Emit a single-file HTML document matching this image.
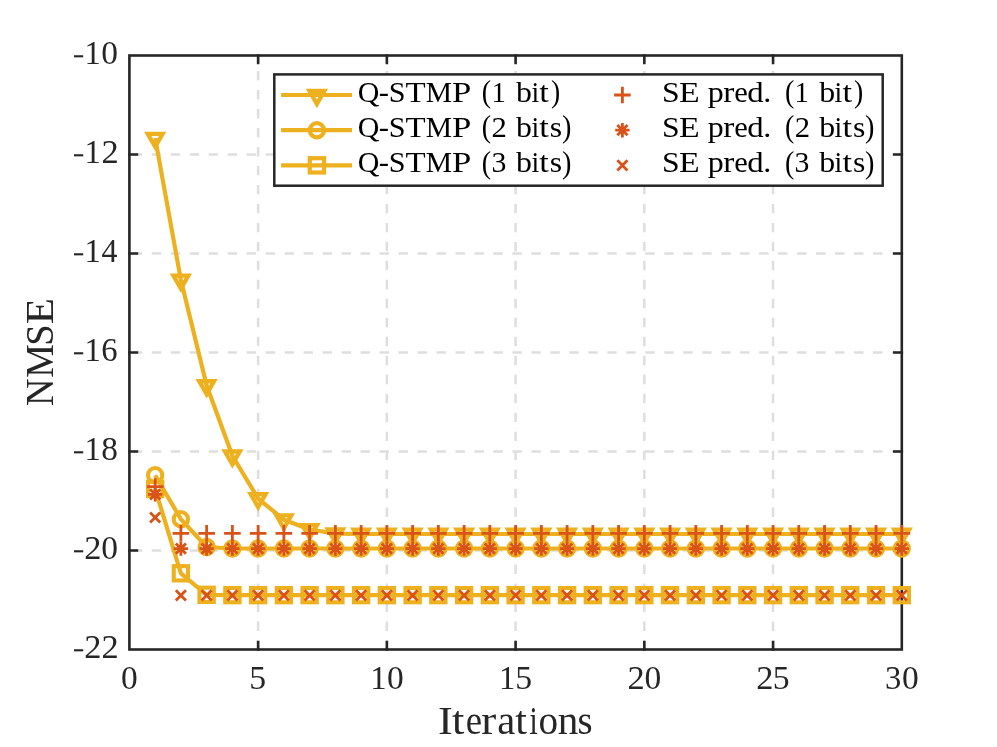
<!DOCTYPE html><html><head><meta charset="utf-8"><style>html,body{margin:0;padding:0;background:#fff;}svg{display:block;will-change:transform;}text{font-family:"Liberation Serif",serif;font-kerning:none;}</style></head><body>
<svg width="997" height="747" viewBox="0 0 997 747">
<rect width="997" height="747" fill="#fff"/>
<g stroke="#DEDEDE" stroke-width="2.5" stroke-dasharray="9.4 9.58" fill="none"><line x1="258.13" y1="55.5" x2="258.13" y2="649.5" stroke-dashoffset="3.41"/><line x1="386.87" y1="55.5" x2="386.87" y2="649.5" stroke-dashoffset="3.41"/><line x1="515.6" y1="55.5" x2="515.6" y2="649.5" stroke-dashoffset="3.41"/><line x1="644.33" y1="55.5" x2="644.33" y2="649.5" stroke-dashoffset="3.41"/><line x1="773.07" y1="55.5" x2="773.07" y2="649.5" stroke-dashoffset="3.41"/><line x1="129.4" y1="154.5" x2="901.8" y2="154.5" stroke-dashoffset="15.56"/><line x1="129.4" y1="253.5" x2="901.8" y2="253.5" stroke-dashoffset="15.56"/><line x1="129.4" y1="352.5" x2="901.8" y2="352.5" stroke-dashoffset="15.56"/><line x1="129.4" y1="451.5" x2="901.8" y2="451.5" stroke-dashoffset="15.56"/><line x1="129.4" y1="550.5" x2="901.8" y2="550.5" stroke-dashoffset="15.56"/></g>
<g stroke="#262626" stroke-width="2.6" fill="none" stroke-linecap="square"><rect x="129.4" y="55.5" width="772.4" height="594"/><path d="M258.13 649.5V642M258.13 55.5V63"/><path d="M386.87 649.5V642M386.87 55.5V63"/><path d="M515.6 649.5V642M515.6 55.5V63"/><path d="M644.33 649.5V642M644.33 55.5V63"/><path d="M773.07 649.5V642M773.07 55.5V63"/><path d="M129.4 154.5H136.9M901.8 154.5H894.3"/><path d="M129.4 253.5H136.9M901.8 253.5H894.3"/><path d="M129.4 352.5H136.9M901.8 352.5H894.3"/><path d="M129.4 451.5H136.9M901.8 451.5H894.3"/><path d="M129.4 550.5H136.9M901.8 550.5H894.3"/></g>
<g fill="none" stroke="#EDB120" stroke-width="4.2" stroke-linejoin="round" stroke-linecap="butt">
<path d="M155.15 138.2 L180.89 280 L206.64 385.55 L232.39 455.8 L258.13 498.55 L283.88 519.75 L309.63 529.45 L335.37 533.6 L361.12 534 L386.87 534 L412.61 534 L438.36 534 L464.11 534 L489.85 534 L515.6 534 L541.35 534 L567.09 534 L592.84 534 L618.59 534 L644.33 534 L670.08 534 L695.83 534 L721.57 534 L747.32 534 L773.07 534 L798.81 534 L824.56 534 L850.31 534 L876.05 534 L901.8 534"/>
<g stroke-linejoin="miter" stroke-width="4.3"><path transform="translate(155.15 138.2)" d="M-7.43 -4.29H7.43L0 8.58Z"/><path transform="translate(180.89 280)" d="M-7.43 -4.29H7.43L0 8.58Z"/><path transform="translate(206.64 385.55)" d="M-7.43 -4.29H7.43L0 8.58Z"/><path transform="translate(232.39 455.8)" d="M-7.43 -4.29H7.43L0 8.58Z"/><path transform="translate(258.13 498.55)" d="M-7.43 -4.29H7.43L0 8.58Z"/><path transform="translate(283.88 519.75)" d="M-7.43 -4.29H7.43L0 8.58Z"/><path transform="translate(309.63 529.45)" d="M-7.43 -4.29H7.43L0 8.58Z"/><path transform="translate(335.37 533.6)" d="M-7.43 -4.29H7.43L0 8.58Z"/><path transform="translate(361.12 534)" d="M-7.43 -4.29H7.43L0 8.58Z"/><path transform="translate(386.87 534)" d="M-7.43 -4.29H7.43L0 8.58Z"/><path transform="translate(412.61 534)" d="M-7.43 -4.29H7.43L0 8.58Z"/><path transform="translate(438.36 534)" d="M-7.43 -4.29H7.43L0 8.58Z"/><path transform="translate(464.11 534)" d="M-7.43 -4.29H7.43L0 8.58Z"/><path transform="translate(489.85 534)" d="M-7.43 -4.29H7.43L0 8.58Z"/><path transform="translate(515.6 534)" d="M-7.43 -4.29H7.43L0 8.58Z"/><path transform="translate(541.35 534)" d="M-7.43 -4.29H7.43L0 8.58Z"/><path transform="translate(567.09 534)" d="M-7.43 -4.29H7.43L0 8.58Z"/><path transform="translate(592.84 534)" d="M-7.43 -4.29H7.43L0 8.58Z"/><path transform="translate(618.59 534)" d="M-7.43 -4.29H7.43L0 8.58Z"/><path transform="translate(644.33 534)" d="M-7.43 -4.29H7.43L0 8.58Z"/><path transform="translate(670.08 534)" d="M-7.43 -4.29H7.43L0 8.58Z"/><path transform="translate(695.83 534)" d="M-7.43 -4.29H7.43L0 8.58Z"/><path transform="translate(721.57 534)" d="M-7.43 -4.29H7.43L0 8.58Z"/><path transform="translate(747.32 534)" d="M-7.43 -4.29H7.43L0 8.58Z"/><path transform="translate(773.07 534)" d="M-7.43 -4.29H7.43L0 8.58Z"/><path transform="translate(798.81 534)" d="M-7.43 -4.29H7.43L0 8.58Z"/><path transform="translate(824.56 534)" d="M-7.43 -4.29H7.43L0 8.58Z"/><path transform="translate(850.31 534)" d="M-7.43 -4.29H7.43L0 8.58Z"/><path transform="translate(876.05 534)" d="M-7.43 -4.29H7.43L0 8.58Z"/><path transform="translate(901.8 534)" d="M-7.43 -4.29H7.43L0 8.58Z"/></g>
<path d="M155.15 475.2 L180.89 519.15 L206.64 547 L232.39 548.5 L258.13 548.5 L283.88 548.5 L309.63 548.5 L335.37 548.5 L361.12 548.5 L386.87 548.5 L412.61 548.5 L438.36 548.5 L464.11 548.5 L489.85 548.5 L515.6 548.5 L541.35 548.5 L567.09 548.5 L592.84 548.5 L618.59 548.5 L644.33 548.5 L670.08 548.5 L695.83 548.5 L721.57 548.5 L747.32 548.5 L773.07 548.5 L798.81 548.5 L824.56 548.5 L850.31 548.5 L876.05 548.5 L901.8 548.5"/>
<g stroke-width="4.1"><circle cx="155.15" cy="475.2" r="7.15"/><circle cx="180.89" cy="519.15" r="7.15"/><circle cx="206.64" cy="547" r="7.15"/><circle cx="232.39" cy="548.5" r="7.15"/><circle cx="258.13" cy="548.5" r="7.15"/><circle cx="283.88" cy="548.5" r="7.15"/><circle cx="309.63" cy="548.5" r="7.15"/><circle cx="335.37" cy="548.5" r="7.15"/><circle cx="361.12" cy="548.5" r="7.15"/><circle cx="386.87" cy="548.5" r="7.15"/><circle cx="412.61" cy="548.5" r="7.15"/><circle cx="438.36" cy="548.5" r="7.15"/><circle cx="464.11" cy="548.5" r="7.15"/><circle cx="489.85" cy="548.5" r="7.15"/><circle cx="515.6" cy="548.5" r="7.15"/><circle cx="541.35" cy="548.5" r="7.15"/><circle cx="567.09" cy="548.5" r="7.15"/><circle cx="592.84" cy="548.5" r="7.15"/><circle cx="618.59" cy="548.5" r="7.15"/><circle cx="644.33" cy="548.5" r="7.15"/><circle cx="670.08" cy="548.5" r="7.15"/><circle cx="695.83" cy="548.5" r="7.15"/><circle cx="721.57" cy="548.5" r="7.15"/><circle cx="747.32" cy="548.5" r="7.15"/><circle cx="773.07" cy="548.5" r="7.15"/><circle cx="798.81" cy="548.5" r="7.15"/><circle cx="824.56" cy="548.5" r="7.15"/><circle cx="850.31" cy="548.5" r="7.15"/><circle cx="876.05" cy="548.5" r="7.15"/><circle cx="901.8" cy="548.5" r="7.15"/></g>
<path d="M155.15 489 L180.89 573.3 L206.64 594.8 L232.39 595.15 L258.13 595.15 L283.88 595.15 L309.63 595.15 L335.37 595.15 L361.12 595.15 L386.87 595.15 L412.61 595.15 L438.36 595.15 L464.11 595.15 L489.85 595.15 L515.6 595.15 L541.35 595.15 L567.09 595.15 L592.84 595.15 L618.59 595.15 L644.33 595.15 L670.08 595.15 L695.83 595.15 L721.57 595.15 L747.32 595.15 L773.07 595.15 L798.81 595.15 L824.56 595.15 L850.31 595.15 L876.05 595.15 L901.8 595.15"/>
<g stroke-linejoin="miter" stroke-width="4.1"><rect x="148" y="481.85" width="14.3" height="14.3"/><rect x="173.74" y="566.15" width="14.3" height="14.3"/><rect x="199.49" y="587.65" width="14.3" height="14.3"/><rect x="225.24" y="588" width="14.3" height="14.3"/><rect x="250.98" y="588" width="14.3" height="14.3"/><rect x="276.73" y="588" width="14.3" height="14.3"/><rect x="302.48" y="588" width="14.3" height="14.3"/><rect x="328.22" y="588" width="14.3" height="14.3"/><rect x="353.97" y="588" width="14.3" height="14.3"/><rect x="379.72" y="588" width="14.3" height="14.3"/><rect x="405.46" y="588" width="14.3" height="14.3"/><rect x="431.21" y="588" width="14.3" height="14.3"/><rect x="456.96" y="588" width="14.3" height="14.3"/><rect x="482.7" y="588" width="14.3" height="14.3"/><rect x="508.45" y="588" width="14.3" height="14.3"/><rect x="534.2" y="588" width="14.3" height="14.3"/><rect x="559.94" y="588" width="14.3" height="14.3"/><rect x="585.69" y="588" width="14.3" height="14.3"/><rect x="611.44" y="588" width="14.3" height="14.3"/><rect x="637.18" y="588" width="14.3" height="14.3"/><rect x="662.93" y="588" width="14.3" height="14.3"/><rect x="688.68" y="588" width="14.3" height="14.3"/><rect x="714.42" y="588" width="14.3" height="14.3"/><rect x="740.17" y="588" width="14.3" height="14.3"/><rect x="765.92" y="588" width="14.3" height="14.3"/><rect x="791.66" y="588" width="14.3" height="14.3"/><rect x="817.41" y="588" width="14.3" height="14.3"/><rect x="843.16" y="588" width="14.3" height="14.3"/><rect x="868.9" y="588" width="14.3" height="14.3"/><rect x="894.65" y="588" width="14.3" height="14.3"/></g>
</g>
<g fill="none" stroke="#D95319" stroke-width="2.8" stroke-linecap="butt">
<path transform="translate(155.15 486.6)" d="M-8.3 0H8.3M0 -8.3V8.3"/><path transform="translate(180.89 533.3)" d="M-8.3 0H8.3M0 -8.3V8.3"/><path transform="translate(206.64 533.3)" d="M-8.3 0H8.3M0 -8.3V8.3"/><path transform="translate(232.39 533.3)" d="M-8.3 0H8.3M0 -8.3V8.3"/><path transform="translate(258.13 533.3)" d="M-8.3 0H8.3M0 -8.3V8.3"/><path transform="translate(283.88 533.3)" d="M-8.3 0H8.3M0 -8.3V8.3"/><path transform="translate(309.63 533.3)" d="M-8.3 0H8.3M0 -8.3V8.3"/><path transform="translate(335.37 533.3)" d="M-8.3 0H8.3M0 -8.3V8.3"/><path transform="translate(361.12 533.3)" d="M-8.3 0H8.3M0 -8.3V8.3"/><path transform="translate(386.87 533.3)" d="M-8.3 0H8.3M0 -8.3V8.3"/><path transform="translate(412.61 533.3)" d="M-8.3 0H8.3M0 -8.3V8.3"/><path transform="translate(438.36 533.3)" d="M-8.3 0H8.3M0 -8.3V8.3"/><path transform="translate(464.11 533.3)" d="M-8.3 0H8.3M0 -8.3V8.3"/><path transform="translate(489.85 533.3)" d="M-8.3 0H8.3M0 -8.3V8.3"/><path transform="translate(515.6 533.3)" d="M-8.3 0H8.3M0 -8.3V8.3"/><path transform="translate(541.35 533.3)" d="M-8.3 0H8.3M0 -8.3V8.3"/><path transform="translate(567.09 533.3)" d="M-8.3 0H8.3M0 -8.3V8.3"/><path transform="translate(592.84 533.3)" d="M-8.3 0H8.3M0 -8.3V8.3"/><path transform="translate(618.59 533.3)" d="M-8.3 0H8.3M0 -8.3V8.3"/><path transform="translate(644.33 533.3)" d="M-8.3 0H8.3M0 -8.3V8.3"/><path transform="translate(670.08 533.3)" d="M-8.3 0H8.3M0 -8.3V8.3"/><path transform="translate(695.83 533.3)" d="M-8.3 0H8.3M0 -8.3V8.3"/><path transform="translate(721.57 533.3)" d="M-8.3 0H8.3M0 -8.3V8.3"/><path transform="translate(747.32 533.3)" d="M-8.3 0H8.3M0 -8.3V8.3"/><path transform="translate(773.07 533.3)" d="M-8.3 0H8.3M0 -8.3V8.3"/><path transform="translate(798.81 533.3)" d="M-8.3 0H8.3M0 -8.3V8.3"/><path transform="translate(824.56 533.3)" d="M-8.3 0H8.3M0 -8.3V8.3"/><path transform="translate(850.31 533.3)" d="M-8.3 0H8.3M0 -8.3V8.3"/><path transform="translate(876.05 533.3)" d="M-8.3 0H8.3M0 -8.3V8.3"/><path transform="translate(901.8 533.3)" d="M-8.3 0H8.3M0 -8.3V8.3"/>
<path transform="translate(155.15 494.3)" d="M-7.2 0H7.2M0 -7.2V7.2M-5.09 -5.09L5.09 5.09M-5.09 5.09L5.09 -5.09"/><path transform="translate(180.89 548.6)" d="M-7.2 0H7.2M0 -7.2V7.2M-5.09 -5.09L5.09 5.09M-5.09 5.09L5.09 -5.09"/><path transform="translate(206.64 548.6)" d="M-7.2 0H7.2M0 -7.2V7.2M-5.09 -5.09L5.09 5.09M-5.09 5.09L5.09 -5.09"/><path transform="translate(232.39 548.6)" d="M-7.2 0H7.2M0 -7.2V7.2M-5.09 -5.09L5.09 5.09M-5.09 5.09L5.09 -5.09"/><path transform="translate(258.13 548.6)" d="M-7.2 0H7.2M0 -7.2V7.2M-5.09 -5.09L5.09 5.09M-5.09 5.09L5.09 -5.09"/><path transform="translate(283.88 548.6)" d="M-7.2 0H7.2M0 -7.2V7.2M-5.09 -5.09L5.09 5.09M-5.09 5.09L5.09 -5.09"/><path transform="translate(309.63 548.6)" d="M-7.2 0H7.2M0 -7.2V7.2M-5.09 -5.09L5.09 5.09M-5.09 5.09L5.09 -5.09"/><path transform="translate(335.37 548.6)" d="M-7.2 0H7.2M0 -7.2V7.2M-5.09 -5.09L5.09 5.09M-5.09 5.09L5.09 -5.09"/><path transform="translate(361.12 548.6)" d="M-7.2 0H7.2M0 -7.2V7.2M-5.09 -5.09L5.09 5.09M-5.09 5.09L5.09 -5.09"/><path transform="translate(386.87 548.6)" d="M-7.2 0H7.2M0 -7.2V7.2M-5.09 -5.09L5.09 5.09M-5.09 5.09L5.09 -5.09"/><path transform="translate(412.61 548.6)" d="M-7.2 0H7.2M0 -7.2V7.2M-5.09 -5.09L5.09 5.09M-5.09 5.09L5.09 -5.09"/><path transform="translate(438.36 548.6)" d="M-7.2 0H7.2M0 -7.2V7.2M-5.09 -5.09L5.09 5.09M-5.09 5.09L5.09 -5.09"/><path transform="translate(464.11 548.6)" d="M-7.2 0H7.2M0 -7.2V7.2M-5.09 -5.09L5.09 5.09M-5.09 5.09L5.09 -5.09"/><path transform="translate(489.85 548.6)" d="M-7.2 0H7.2M0 -7.2V7.2M-5.09 -5.09L5.09 5.09M-5.09 5.09L5.09 -5.09"/><path transform="translate(515.6 548.6)" d="M-7.2 0H7.2M0 -7.2V7.2M-5.09 -5.09L5.09 5.09M-5.09 5.09L5.09 -5.09"/><path transform="translate(541.35 548.6)" d="M-7.2 0H7.2M0 -7.2V7.2M-5.09 -5.09L5.09 5.09M-5.09 5.09L5.09 -5.09"/><path transform="translate(567.09 548.6)" d="M-7.2 0H7.2M0 -7.2V7.2M-5.09 -5.09L5.09 5.09M-5.09 5.09L5.09 -5.09"/><path transform="translate(592.84 548.6)" d="M-7.2 0H7.2M0 -7.2V7.2M-5.09 -5.09L5.09 5.09M-5.09 5.09L5.09 -5.09"/><path transform="translate(618.59 548.6)" d="M-7.2 0H7.2M0 -7.2V7.2M-5.09 -5.09L5.09 5.09M-5.09 5.09L5.09 -5.09"/><path transform="translate(644.33 548.6)" d="M-7.2 0H7.2M0 -7.2V7.2M-5.09 -5.09L5.09 5.09M-5.09 5.09L5.09 -5.09"/><path transform="translate(670.08 548.6)" d="M-7.2 0H7.2M0 -7.2V7.2M-5.09 -5.09L5.09 5.09M-5.09 5.09L5.09 -5.09"/><path transform="translate(695.83 548.6)" d="M-7.2 0H7.2M0 -7.2V7.2M-5.09 -5.09L5.09 5.09M-5.09 5.09L5.09 -5.09"/><path transform="translate(721.57 548.6)" d="M-7.2 0H7.2M0 -7.2V7.2M-5.09 -5.09L5.09 5.09M-5.09 5.09L5.09 -5.09"/><path transform="translate(747.32 548.6)" d="M-7.2 0H7.2M0 -7.2V7.2M-5.09 -5.09L5.09 5.09M-5.09 5.09L5.09 -5.09"/><path transform="translate(773.07 548.6)" d="M-7.2 0H7.2M0 -7.2V7.2M-5.09 -5.09L5.09 5.09M-5.09 5.09L5.09 -5.09"/><path transform="translate(798.81 548.6)" d="M-7.2 0H7.2M0 -7.2V7.2M-5.09 -5.09L5.09 5.09M-5.09 5.09L5.09 -5.09"/><path transform="translate(824.56 548.6)" d="M-7.2 0H7.2M0 -7.2V7.2M-5.09 -5.09L5.09 5.09M-5.09 5.09L5.09 -5.09"/><path transform="translate(850.31 548.6)" d="M-7.2 0H7.2M0 -7.2V7.2M-5.09 -5.09L5.09 5.09M-5.09 5.09L5.09 -5.09"/><path transform="translate(876.05 548.6)" d="M-7.2 0H7.2M0 -7.2V7.2M-5.09 -5.09L5.09 5.09M-5.09 5.09L5.09 -5.09"/><path transform="translate(901.8 548.6)" d="M-7.2 0H7.2M0 -7.2V7.2M-5.09 -5.09L5.09 5.09M-5.09 5.09L5.09 -5.09"/>
<path transform="translate(155.15 517.5)" d="M-5.05 -5.05L5.05 5.05M-5.05 5.05L5.05 -5.05"/><path transform="translate(180.89 595.4)" d="M-5.05 -5.05L5.05 5.05M-5.05 5.05L5.05 -5.05"/><path transform="translate(206.64 595.4)" d="M-5.05 -5.05L5.05 5.05M-5.05 5.05L5.05 -5.05"/><path transform="translate(232.39 595.4)" d="M-5.05 -5.05L5.05 5.05M-5.05 5.05L5.05 -5.05"/><path transform="translate(258.13 595.4)" d="M-5.05 -5.05L5.05 5.05M-5.05 5.05L5.05 -5.05"/><path transform="translate(283.88 595.4)" d="M-5.05 -5.05L5.05 5.05M-5.05 5.05L5.05 -5.05"/><path transform="translate(309.63 595.4)" d="M-5.05 -5.05L5.05 5.05M-5.05 5.05L5.05 -5.05"/><path transform="translate(335.37 595.4)" d="M-5.05 -5.05L5.05 5.05M-5.05 5.05L5.05 -5.05"/><path transform="translate(361.12 595.4)" d="M-5.05 -5.05L5.05 5.05M-5.05 5.05L5.05 -5.05"/><path transform="translate(386.87 595.4)" d="M-5.05 -5.05L5.05 5.05M-5.05 5.05L5.05 -5.05"/><path transform="translate(412.61 595.4)" d="M-5.05 -5.05L5.05 5.05M-5.05 5.05L5.05 -5.05"/><path transform="translate(438.36 595.4)" d="M-5.05 -5.05L5.05 5.05M-5.05 5.05L5.05 -5.05"/><path transform="translate(464.11 595.4)" d="M-5.05 -5.05L5.05 5.05M-5.05 5.05L5.05 -5.05"/><path transform="translate(489.85 595.4)" d="M-5.05 -5.05L5.05 5.05M-5.05 5.05L5.05 -5.05"/><path transform="translate(515.6 595.4)" d="M-5.05 -5.05L5.05 5.05M-5.05 5.05L5.05 -5.05"/><path transform="translate(541.35 595.4)" d="M-5.05 -5.05L5.05 5.05M-5.05 5.05L5.05 -5.05"/><path transform="translate(567.09 595.4)" d="M-5.05 -5.05L5.05 5.05M-5.05 5.05L5.05 -5.05"/><path transform="translate(592.84 595.4)" d="M-5.05 -5.05L5.05 5.05M-5.05 5.05L5.05 -5.05"/><path transform="translate(618.59 595.4)" d="M-5.05 -5.05L5.05 5.05M-5.05 5.05L5.05 -5.05"/><path transform="translate(644.33 595.4)" d="M-5.05 -5.05L5.05 5.05M-5.05 5.05L5.05 -5.05"/><path transform="translate(670.08 595.4)" d="M-5.05 -5.05L5.05 5.05M-5.05 5.05L5.05 -5.05"/><path transform="translate(695.83 595.4)" d="M-5.05 -5.05L5.05 5.05M-5.05 5.05L5.05 -5.05"/><path transform="translate(721.57 595.4)" d="M-5.05 -5.05L5.05 5.05M-5.05 5.05L5.05 -5.05"/><path transform="translate(747.32 595.4)" d="M-5.05 -5.05L5.05 5.05M-5.05 5.05L5.05 -5.05"/><path transform="translate(773.07 595.4)" d="M-5.05 -5.05L5.05 5.05M-5.05 5.05L5.05 -5.05"/><path transform="translate(798.81 595.4)" d="M-5.05 -5.05L5.05 5.05M-5.05 5.05L5.05 -5.05"/><path transform="translate(824.56 595.4)" d="M-5.05 -5.05L5.05 5.05M-5.05 5.05L5.05 -5.05"/><path transform="translate(850.31 595.4)" d="M-5.05 -5.05L5.05 5.05M-5.05 5.05L5.05 -5.05"/><path transform="translate(876.05 595.4)" d="M-5.05 -5.05L5.05 5.05M-5.05 5.05L5.05 -5.05"/><path transform="translate(901.8 595.4)" d="M-5.05 -5.05L5.05 5.05M-5.05 5.05L5.05 -5.05"/>
</g>
<rect x="274.3" y="74.4" width="608.4" height="111.3" fill="#fff" stroke="#262626" stroke-width="2.5"/>
<g fill="none" stroke="#EDB120" stroke-width="4.2">
<path d="M281.1 95H352"/>
<path d="M281.1 130.2H352"/>
<path d="M281.1 165.35H352"/>
<path transform="translate(316.9 95.3)" d="M-7.43 -4.29H7.43L0 8.58Z" stroke-width="4.3"/>
<circle cx="316.9" cy="130.2" r="7.15"/>
<rect x="309.75" y="158.2" width="14.3" height="14.3"/>
</g>
<g fill="none" stroke="#D95319" stroke-width="2.8">
<path transform="translate(622.4 95)" d="M-8.3 0H8.3M0 -8.3V8.3"/>
<path transform="translate(622.4 130.2)" d="M-7.2 0H7.2M0 -7.2V7.2M-5.09 -5.09L5.09 5.09M-5.09 5.09L5.09 -5.09"/>
<path transform="translate(622.4 165.35)" d="M-5.05 -5.05L5.05 5.05M-5.05 5.05L5.05 -5.05"/>
</g>
<g fill="#000" font-size="30.4">
<text x="357.67" y="102.1" textLength="21.64" lengthAdjust="spacingAndGlyphs">Q</text>
<text x="378.86" y="102.1" textLength="10.26" lengthAdjust="spacingAndGlyphs">-</text>
<text x="388.78" y="102.1" textLength="16.79" lengthAdjust="spacingAndGlyphs">S</text>
<text x="405.4" y="102.1" textLength="20.14" lengthAdjust="spacingAndGlyphs">T</text>
<text x="425.65" y="102.1" textLength="26.32" lengthAdjust="spacingAndGlyphs">M</text>
<text x="451.9" y="102.1" textLength="19.29" lengthAdjust="spacingAndGlyphs">P</text>
<text x="662.08" y="102.1" textLength="17.64" lengthAdjust="spacingAndGlyphs">S</text>
<text x="678.93" y="102.1" textLength="20.66" lengthAdjust="spacingAndGlyphs">E</text>
<text x="707.89" y="102.1" textLength="15.96" lengthAdjust="spacingAndGlyphs">p</text>
<text x="723.34" y="102.1" textLength="11.06" lengthAdjust="spacingAndGlyphs">r</text>
<text x="734.31" y="102.1" textLength="13.55" lengthAdjust="spacingAndGlyphs">e</text>
<text x="747.32" y="102.1" textLength="16.38" lengthAdjust="spacingAndGlyphs">d</text>
<text x="763.38" y="102.1" textLength="8.04" lengthAdjust="spacingAndGlyphs">.</text>
<text x="481.87" y="102.25" textLength="9.34" lengthAdjust="spacingAndGlyphs" font-size="31.5">(</text>
<text x="491.38" y="102.1" textLength="14.34" lengthAdjust="spacingAndGlyphs">1</text>
<text x="516.1" y="102.1" textLength="15.91" lengthAdjust="spacingAndGlyphs">b</text>
<text x="531.42" y="102.1" textLength="7.71" lengthAdjust="spacingAndGlyphs">i</text>
<text x="539.36" y="102.1" textLength="9.54" lengthAdjust="spacingAndGlyphs">t</text>
<text x="550.91" y="102.25" textLength="9.21" lengthAdjust="spacingAndGlyphs" font-size="31.5">)</text>
<text x="785.07" y="102.25" textLength="9.34" lengthAdjust="spacingAndGlyphs" font-size="31.5">(</text>
<text x="794.58" y="102.1" textLength="14.34" lengthAdjust="spacingAndGlyphs">1</text>
<text x="819.3" y="102.1" textLength="15.91" lengthAdjust="spacingAndGlyphs">b</text>
<text x="834.62" y="102.1" textLength="7.71" lengthAdjust="spacingAndGlyphs">i</text>
<text x="842.56" y="102.1" textLength="9.54" lengthAdjust="spacingAndGlyphs">t</text>
<text x="854.11" y="102.25" textLength="9.21" lengthAdjust="spacingAndGlyphs" font-size="31.5">)</text>
<text x="357.67" y="137.3" textLength="21.64" lengthAdjust="spacingAndGlyphs">Q</text>
<text x="378.86" y="137.3" textLength="10.26" lengthAdjust="spacingAndGlyphs">-</text>
<text x="388.78" y="137.3" textLength="16.79" lengthAdjust="spacingAndGlyphs">S</text>
<text x="405.4" y="137.3" textLength="20.14" lengthAdjust="spacingAndGlyphs">T</text>
<text x="425.65" y="137.3" textLength="26.32" lengthAdjust="spacingAndGlyphs">M</text>
<text x="451.9" y="137.3" textLength="19.29" lengthAdjust="spacingAndGlyphs">P</text>
<text x="662.08" y="137.3" textLength="17.64" lengthAdjust="spacingAndGlyphs">S</text>
<text x="678.93" y="137.3" textLength="20.66" lengthAdjust="spacingAndGlyphs">E</text>
<text x="707.89" y="137.3" textLength="15.96" lengthAdjust="spacingAndGlyphs">p</text>
<text x="723.34" y="137.3" textLength="11.06" lengthAdjust="spacingAndGlyphs">r</text>
<text x="734.31" y="137.3" textLength="13.55" lengthAdjust="spacingAndGlyphs">e</text>
<text x="747.32" y="137.3" textLength="16.38" lengthAdjust="spacingAndGlyphs">d</text>
<text x="763.38" y="137.3" textLength="8.04" lengthAdjust="spacingAndGlyphs">.</text>
<text x="481.87" y="137.45" textLength="9.34" lengthAdjust="spacingAndGlyphs" font-size="31.5">(</text>
<text x="491.45" y="137.3" textLength="15.34" lengthAdjust="spacingAndGlyphs">2</text>
<text x="516.1" y="137.3" textLength="15.91" lengthAdjust="spacingAndGlyphs">b</text>
<text x="531.42" y="137.3" textLength="7.71" lengthAdjust="spacingAndGlyphs">i</text>
<text x="539.36" y="137.3" textLength="9.54" lengthAdjust="spacingAndGlyphs">t</text>
<text x="549.8" y="137.3" textLength="12.35" lengthAdjust="spacingAndGlyphs">s</text>
<text x="561.89" y="137.45" textLength="9.4" lengthAdjust="spacingAndGlyphs" font-size="31.5">)</text>
<text x="785.07" y="137.45" textLength="9.34" lengthAdjust="spacingAndGlyphs" font-size="31.5">(</text>
<text x="794.65" y="137.3" textLength="15.34" lengthAdjust="spacingAndGlyphs">2</text>
<text x="819.3" y="137.3" textLength="15.91" lengthAdjust="spacingAndGlyphs">b</text>
<text x="834.62" y="137.3" textLength="7.71" lengthAdjust="spacingAndGlyphs">i</text>
<text x="842.56" y="137.3" textLength="9.54" lengthAdjust="spacingAndGlyphs">t</text>
<text x="853" y="137.3" textLength="12.35" lengthAdjust="spacingAndGlyphs">s</text>
<text x="865.09" y="137.45" textLength="9.4" lengthAdjust="spacingAndGlyphs" font-size="31.5">)</text>
<text x="357.67" y="172.4" textLength="21.64" lengthAdjust="spacingAndGlyphs">Q</text>
<text x="378.86" y="172.4" textLength="10.26" lengthAdjust="spacingAndGlyphs">-</text>
<text x="388.78" y="172.4" textLength="16.79" lengthAdjust="spacingAndGlyphs">S</text>
<text x="405.4" y="172.4" textLength="20.14" lengthAdjust="spacingAndGlyphs">T</text>
<text x="425.65" y="172.4" textLength="26.32" lengthAdjust="spacingAndGlyphs">M</text>
<text x="451.9" y="172.4" textLength="19.29" lengthAdjust="spacingAndGlyphs">P</text>
<text x="662.08" y="172.4" textLength="17.64" lengthAdjust="spacingAndGlyphs">S</text>
<text x="678.93" y="172.4" textLength="20.66" lengthAdjust="spacingAndGlyphs">E</text>
<text x="707.89" y="172.4" textLength="15.96" lengthAdjust="spacingAndGlyphs">p</text>
<text x="723.34" y="172.4" textLength="11.06" lengthAdjust="spacingAndGlyphs">r</text>
<text x="734.31" y="172.4" textLength="13.55" lengthAdjust="spacingAndGlyphs">e</text>
<text x="747.32" y="172.4" textLength="16.38" lengthAdjust="spacingAndGlyphs">d</text>
<text x="763.38" y="172.4" textLength="8.04" lengthAdjust="spacingAndGlyphs">.</text>
<text x="481.87" y="172.55" textLength="9.34" lengthAdjust="spacingAndGlyphs" font-size="31.5">(</text>
<text x="491.38" y="172.4" textLength="14.89" lengthAdjust="spacingAndGlyphs">3</text>
<text x="516.1" y="172.4" textLength="15.91" lengthAdjust="spacingAndGlyphs">b</text>
<text x="531.42" y="172.4" textLength="7.71" lengthAdjust="spacingAndGlyphs">i</text>
<text x="539.36" y="172.4" textLength="9.54" lengthAdjust="spacingAndGlyphs">t</text>
<text x="549.8" y="172.4" textLength="12.35" lengthAdjust="spacingAndGlyphs">s</text>
<text x="561.89" y="172.55" textLength="9.4" lengthAdjust="spacingAndGlyphs" font-size="31.5">)</text>
<text x="785.07" y="172.55" textLength="9.34" lengthAdjust="spacingAndGlyphs" font-size="31.5">(</text>
<text x="794.58" y="172.4" textLength="14.89" lengthAdjust="spacingAndGlyphs">3</text>
<text x="819.3" y="172.4" textLength="15.91" lengthAdjust="spacingAndGlyphs">b</text>
<text x="834.62" y="172.4" textLength="7.71" lengthAdjust="spacingAndGlyphs">i</text>
<text x="842.56" y="172.4" textLength="9.54" lengthAdjust="spacingAndGlyphs">t</text>
<text x="853" y="172.4" textLength="12.35" lengthAdjust="spacingAndGlyphs">s</text>
<text x="865.09" y="172.55" textLength="9.4" lengthAdjust="spacingAndGlyphs" font-size="31.5">)</text>
</g>
<g fill="#262626" font-size="34.6">
<rect x="74" y="55.25" width="9.2" height="2.1"/>
<text x="84.53" y="64" textLength="16.33" lengthAdjust="spacingAndGlyphs">1</text><text x="101.26" y="64" textLength="16.75" lengthAdjust="spacingAndGlyphs">0</text>
<rect x="74" y="154.25" width="9.2" height="2.1"/>
<text x="84.53" y="163" textLength="16.33" lengthAdjust="spacingAndGlyphs">1</text><text x="101.53" y="163" textLength="17.21" lengthAdjust="spacingAndGlyphs">2</text>
<rect x="74" y="253.25" width="9.2" height="2.1"/>
<text x="84.53" y="262" textLength="16.33" lengthAdjust="spacingAndGlyphs">1</text><text x="101.41" y="262" textLength="16.03" lengthAdjust="spacingAndGlyphs">4</text>
<rect x="74" y="352.25" width="9.2" height="2.1"/>
<text x="84.53" y="361" textLength="16.33" lengthAdjust="spacingAndGlyphs">1</text><text x="101.2" y="361" textLength="16.31" lengthAdjust="spacingAndGlyphs">6</text>
<rect x="74" y="451.25" width="9.2" height="2.1"/>
<text x="84.53" y="460" textLength="16.33" lengthAdjust="spacingAndGlyphs">1</text><text x="101.33" y="460" textLength="16.68" lengthAdjust="spacingAndGlyphs">8</text>
<rect x="74" y="550.25" width="9.2" height="2.1"/>
<text x="84.33" y="559" textLength="17.21" lengthAdjust="spacingAndGlyphs">2</text><text x="101.26" y="559" textLength="16.75" lengthAdjust="spacingAndGlyphs">0</text>
<rect x="74" y="649.25" width="9.2" height="2.1"/>
<text x="84.33" y="658" textLength="17.21" lengthAdjust="spacingAndGlyphs">2</text><text x="101.53" y="658" textLength="17.21" lengthAdjust="spacingAndGlyphs">2</text>
<text x="120.92" y="689.4" textLength="16.75" lengthAdjust="spacingAndGlyphs">0</text>
<text x="249.27" y="689.4" textLength="16.88" lengthAdjust="spacingAndGlyphs">5</text>
<text x="370.26" y="689.4" textLength="16.33" lengthAdjust="spacingAndGlyphs">1</text><text x="386.99" y="689.4" textLength="16.75" lengthAdjust="spacingAndGlyphs">0</text>
<text x="498.99" y="689.4" textLength="16.33" lengthAdjust="spacingAndGlyphs">1</text><text x="515.34" y="689.4" textLength="16.88" lengthAdjust="spacingAndGlyphs">5</text>
<text x="627.52" y="689.4" textLength="17.21" lengthAdjust="spacingAndGlyphs">2</text><text x="644.46" y="689.4" textLength="16.75" lengthAdjust="spacingAndGlyphs">0</text>
<text x="756.25" y="689.4" textLength="17.21" lengthAdjust="spacingAndGlyphs">2</text><text x="772.8" y="689.4" textLength="16.88" lengthAdjust="spacingAndGlyphs">5</text>
<text x="885.04" y="689.4" textLength="16.34" lengthAdjust="spacingAndGlyphs">3</text><text x="901.92" y="689.4" textLength="16.75" lengthAdjust="spacingAndGlyphs">0</text>
</g>
<g fill="#262626" font-size="39">
<text x="437.99" y="734" textLength="14.82" lengthAdjust="spacingAndGlyphs">I</text>
<text x="452.02" y="734" textLength="12.34" lengthAdjust="spacingAndGlyphs">t</text>
<text x="465.86" y="734" textLength="16.31" lengthAdjust="spacingAndGlyphs">e</text>
<text x="481.2" y="734" textLength="15" lengthAdjust="spacingAndGlyphs">r</text>
<text x="497.18" y="734" textLength="17.98" lengthAdjust="spacingAndGlyphs">a</text>
<text x="515.19" y="734" textLength="11.66" lengthAdjust="spacingAndGlyphs">t</text>
<text x="529.48" y="734" textLength="8.18" lengthAdjust="spacingAndGlyphs">i</text>
<text x="538.61" y="734" textLength="19.58" lengthAdjust="spacingAndGlyphs">o</text>
<text x="557.76" y="734" textLength="20.57" lengthAdjust="spacingAndGlyphs">n</text>
<text x="577.61" y="734" textLength="15.09" lengthAdjust="spacingAndGlyphs">s</text>
<g transform="translate(52.9 0) rotate(-90)"><text x="-406.1" y="0" textLength="27.68" lengthAdjust="spacingAndGlyphs">N</text><text x="-377.79" y="0" textLength="33.7" lengthAdjust="spacingAndGlyphs">M</text><text x="-345.78" y="0" textLength="21.48" lengthAdjust="spacingAndGlyphs">S</text><text x="-324.34" y="0" textLength="26.28" lengthAdjust="spacingAndGlyphs">E</text></g>
</g>
</svg></body></html>
